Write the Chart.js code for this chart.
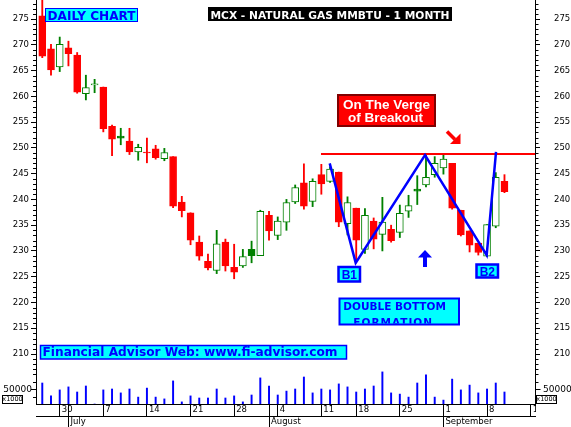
<!DOCTYPE html>
<html>
<head>
<meta charset="utf-8">
<title>MCX - Natural Gas</title>
<script src="https://cdn.jsdelivr.net/npm/chart.js"></script>
<style>
    body { margin: 0; background: #fff; }
    canvas { display: block; }
</style>
</head>
<body>
<canvas id="grafico" width="571" height="427"></canvas>
<script>
// dias de pregão (15/08 sem pregão)
const datas = [
    '26/06', '27/06',
    '30/06', '01/07', '02/07', '03/07', '04/07',
    '07/07', '08/07', '09/07', '10/07', '11/07',
    '14/07', '15/07', '16/07', '17/07', '18/07',
    '21/07', '22/07', '23/07', '24/07', '25/07',
    '28/07', '29/07', '30/07', '31/07', '01/08',
    '04/08', '05/08', '06/08', '07/08', '08/08',
    '11/08', '12/08', '13/08', '14/08',
    '18/08', '19/08', '20/08', '21/08', '22/08',
    '25/08', '26/08', '27/08', '28/08', '29/08',
    '01/09', '02/09', '03/09', '04/09', '05/09',
    '08/09', '09/09', '10/09'
];

const abertura = [
    275.6, 269.2,
    265.7, 269.4, 268.0, 260.5, 262.2,
    261.8, 254.2, 252.3, 251.3, 249.2,
    249.2, 249.8, 247.9, 248.3, 239.5,
    237.4, 231.7, 228.0, 226.2, 231.7,
    226.8, 227.1, 230.3, 229.1, 236.9,
    233.0, 235.6, 239.5, 243.2, 239.6,
    244.8, 243.5, 245.3, 235.3,
    238.3, 230.3, 235.8, 233.2, 234.2,
    233.6, 237.7, 242.0, 242.8, 244.8,
    246.1, 247.0, 237.9, 233.9, 231.5,
    229.0, 234.8, 243.5
];
const maxima = [
    279.5, 270.1,
    271.5, 270.7, 268.5, 264.1, 263.3,
    261.8, 254.4, 253.8, 253.8, 250.7,
    251.9, 250.5, 249.9, 248.3, 240.6,
    237.4, 232.9, 229.4, 234.0, 232.3,
    231.3, 230.3, 231.9, 237.9, 237.7,
    236.6, 240.0, 242.8, 246.9, 244.0,
    246.8, 246.3, 245.3, 240.5,
    238.3, 238.2, 236.4, 240.4, 235.0,
    238.9, 240.8, 244.6, 248.6, 248.3,
    248.6, 247.0, 237.9, 233.9, 231.5,
    235.1, 245.2, 244.8
];
const minima = [
    267.5, 264.1,
    264.8, 265.9, 260.6, 259.3, 260.7,
    253.1, 248.5, 250.6, 248.7, 247.6,
    247.1, 247.8, 247.5, 238.4, 236.6,
    231.2, 228.2, 226.3, 225.6, 226.1,
    224.6, 226.8, 227.7, 229.1, 232.1,
    232.2, 234.0, 239.2, 238.1, 238.6,
    241.0, 243.3, 234.7, 233.1,
    228.2, 229.5, 230.4, 230.0, 231.7,
    232.6, 236.5, 239.0, 242.4, 244.3,
    244.9, 238.1, 232.9, 229.8, 229.2,
    228.9, 234.5, 241.3
];
const fechamento = [
    267.8, 265.1,
    270.1, 268.3, 260.8, 261.7, 262.4,
    253.7, 251.7, 251.9, 249.2, 250.1,
    249.0, 248.1, 249.1, 238.7, 237.8,
    232.1, 229.0, 226.7, 231.4, 227.1,
    225.9, 228.9, 229.1, 237.7, 233.9,
    235.8, 239.4, 242.3, 238.7, 243.5,
    243.0, 245.9, 235.6, 239.4,
    232.1, 236.9, 232.3, 235.6, 232.0,
    237.3, 238.8, 241.6, 244.3, 247.0,
    247.8, 238.3, 233.1, 231.1, 229.7,
    235.1, 244.3, 241.5
];
// volume (x1000)
const volume = [
    70000, 27000,
    47000, 57000, 40000, 60000, 0,
    47000, 50000, 37000, 50000, 23000,
    53000, 23000, 17000, 77000, 7000,
    27000, 20000, 20000, 50000, 20000,
    27000, 7000, 30000, 87000, 60000,
    30000, 43000, 50000, 90000, 37000,
    50000, 47000, 67000, 57000,
    40000, 50000, 60000, 107000, 37000,
    33000, 23000, 70000, 97000, 23000,
    13000, 83000, 47000, 63000, 37000,
    50000, 70000, 40000
];

// eixo de datas: segundas-feiras e começo de cada mês (posição = índice do pregão)
const segundas = [2, 7, 12, 17, 22, 27, 32, 36, 41, 46, 51, 56];
const rotulosSegunda = ['30', '7', '14', '21', '28', '4', '11', '18', '25', '1', '8', '15'];
const inicioMes = [3, 26, 46];
const rotulosMes = ['July', 'August', 'September'];
const ticksPreco = [210, 215, 220, 225, 230, 235, 240, 245, 250, 255, 260, 265, 270, 275];
const tickVolume = 50000;

// linhas desenhadas por cima (índice do pregão, preço)
const padraoX = [32.96, 35.94, 43.89, 50.96, 52.03];
const padraoY = [246.98, 227.68, 248.6, 229.17, 249.23];
const resistenciaX = [31.96, 56.5];
const resistencia = 248.8;

const X_MIN = -0.72, X_MAX = 56.5;
const Y_MIN = 200.3, Y_MAX = 278.69;
const VOL_MAX = 1346667;

const AZUL = '#0000ff', CIANO = '#00ffff', VERDE = '#008000', VERMELHO = '#ff0000';

const idx = datas.map((d, i) => i);
const corCandle = idx.map(i => {
    const sobe = i === 0 ? fechamento[i] >= abertura[i] : fechamento[i] >= fechamento[i - 1];
    return sobe ? VERDE : VERMELHO;
});
const fundoCandle = idx.map(i => fechamento[i] < abertura[i] ? corCandle[i] : '#ffffff');

function caixa(c, x, y, w, h, fundo, borda, lw) {
    c.fillStyle = fundo;
    c.fillRect(x, y, w, h);
    if (borda) {
        c.strokeStyle = borda;
        c.lineWidth = lw;
        c.strokeRect(x, y, w, h);
    }
}

function texto(c, t, x, y, fonte, cor, alinhamento, maxW) {
    c.font = fonte;
    c.fillStyle = cor;
    c.textAlign = alinhamento;
    c.textBaseline = 'alphabetic';
    if (maxW) c.fillText(t, x, y, maxW);
    else c.fillText(t, x, y);
}

const extras = {
    id: 'extras',
    afterDraw(chart) {
        const c = chart.ctx;
        const a = chart.chartArea;
        const y = chart.scales.y;
        const yv = chart.scales.yv;
        c.save();

        // rótulo "15" cortado na borda
        c.fillStyle = '#fff';
        c.fillRect(a.right + 1, a.bottom + 1, chart.width - a.right, 11);

        // ticks menores do preço
        c.strokeStyle = '#000';
        c.lineWidth = 1;
        c.beginPath();
        for (let v = 207; v <= 278; v++) {
            if (v % 5 === 0 && v >= 210) continue;
            const py = Math.round(y.getPixelForValue(v)) + 0.5;
            c.moveTo(a.left - 3, py); c.lineTo(a.left + 0.5, py);
            c.moveTo(a.right, py); c.lineTo(a.right + 3.5, py);
        }
        // volume
        [25000, 75000, 100000].forEach(v => {
            const py = Math.round(yv.getPixelForValue(v)) + 0.5;
            c.moveTo(a.left - 3, py); c.lineTo(a.left + 0.5, py);
            c.moveTo(a.right, py); c.lineTo(a.right + 3.5, py);
        });
        const pv = Math.round(yv.getPixelForValue(tickVolume)) + 0.5;
        c.moveTo(a.left - 5, pv); c.lineTo(a.left + 0.5, pv);
        c.moveTo(a.right, pv); c.lineTo(a.right + 5.5, pv);
        c.stroke();

        c.textBaseline = 'middle';
        c.font = '9px "DejaVu Sans"';
        c.fillStyle = '#000';
        c.textAlign = 'right';
        c.fillText(String(tickVolume), 32, pv);
        c.textAlign = 'left';
        c.fillText(String(tickVolume), 543, pv);

        [[2.5, 395.5], [536.5, 395.5]].forEach(([bx, by]) => {
            caixa(c, bx, by, 20, 8, '#fff', '#000', 1);
            c.font = '6.5px "DejaVu Sans"';
            c.fillStyle = '#000';
            c.textAlign = 'center';
            c.textBaseline = 'middle';
            c.fillText('x1000', bx + 10, by + 4.3);
        });

        // caixas de texto
        caixa(c, 45.5, 8.5, 92, 13, CIANO, AZUL, 1);
        texto(c, 'DAILY CHART', 91.5, 19.5, 'bold 12.5px "DejaVu Sans"', AZUL, 'center', 88);

        caixa(c, 208, 7, 244, 14, '#000');
        texto(c, 'MCX - NATURAL GAS MMBTU - 1 MONTH', 330, 18.5, 'bold 11px "DejaVu Sans"', '#fff', 'center', 239);

        caixa(c, 338, 95, 97, 31, VERMELHO, '#800000', 2);
        texto(c, 'On The Verge', 386.5, 108.5, 'bold 13.5px "Liberation Sans"', '#fff', 'center', 91);
        texto(c, 'of Breakout', 385.5, 122, 'bold 13.5px "Liberation Sans"', '#fff', 'center', 80);

        // seta vermelha
        c.strokeStyle = VERMELHO;
        c.lineWidth = 3.5;
        c.beginPath();
        c.moveTo(447, 131.5); c.lineTo(455, 139.5);
        c.stroke();
        c.fillStyle = VERMELHO;
        c.beginPath();
        c.moveTo(460.5, 144); c.lineTo(450, 144); c.lineTo(460.5, 133.5);
        c.closePath(); c.fill();

        caixa(c, 338.5, 267, 21.5, 14.5, CIANO, AZUL, 2.5);
        texto(c, 'B1', 349.3, 279.3, 'bold 12px "Liberation Sans"', AZUL, 'center');
        caixa(c, 476.5, 264.5, 21.5, 13, CIANO, AZUL, 2.5);
        texto(c, 'B2', 487.3, 276.3, 'bold 12px "Liberation Sans"', AZUL, 'center');

        // seta azul
        c.fillStyle = AZUL;
        c.beginPath();
        c.moveTo(425, 250); c.lineTo(432, 257.5); c.lineTo(418, 257.5);
        c.closePath(); c.fill();
        c.fillRect(423, 257, 4, 10);

        caixa(c, 339.5, 298.5, 119.5, 26, CIANO);
        c.save();
        c.beginPath();
        c.rect(340.5, 299.5, 117.5, 24);
        c.clip();
        texto(c, 'DOUBLE BOTTOM', 343.3, 309.5, 'bold 10.5px "DejaVu Sans"', AZUL, 'left');
        c.letterSpacing = '1px';
        texto(c, 'FORMATION', 353.3, 325.5, 'bold 10.5px "DejaVu Sans"', AZUL, 'left');
        c.letterSpacing = '0px';
        c.restore();
        c.strokeStyle = AZUL;
        c.lineWidth = 2;
        c.strokeRect(339.5, 298.5, 119.5, 26);

        caixa(c, 40.5, 345.5, 306, 13.5, CIANO, AZUL, 1.5);
        texto(c, 'Financial Advisor Web: www.fi-advisor.com', 42.5, 355.8, 'bold 12.2px "DejaVu Sans"', AZUL, 'left', 301);

        c.restore();
    }
};

const fonteEixo = { family: 'DejaVu Sans', size: 8.5 };

const grafico = new Chart(document.getElementById('grafico').getContext('2d'), {
    type: 'bar',
    data: {
        datasets: [
            {
                type: 'line',
                data: padraoX.map((x, k) => ({ x, y: padraoY[k] })),
                borderColor: AZUL,
                borderWidth: 2.5,
                pointRadius: 0,
                xAxisID: 'x', yAxisID: 'y',
                order: 0
            },
            {
                type: 'line',
                data: resistenciaX.map(x => ({ x, y: resistencia })),
                borderColor: VERMELHO,
                borderWidth: 2,
                pointRadius: 0,
                xAxisID: 'x', yAxisID: 'y',
                order: 1
            },
            {
                label: 'corpo',
                data: idx.map(i => ({ x: i, y: [abertura[i], fechamento[i]] })),
                backgroundColor: fundoCandle,
                borderColor: corCandle,
                borderWidth: 1,
                borderSkipped: false,
                barThickness: 7,
                grouped: false,
                xAxisID: 'x', yAxisID: 'y',
                order: 2
            },
            {
                label: 'pavio',
                data: idx.map(i => ({ x: i, y: [minima[i], maxima[i]] })),
                backgroundColor: corCandle,
                barThickness: 1.2,
                grouped: false,
                xAxisID: 'x', yAxisID: 'y',
                order: 3
            },
            {
                label: 'volume',
                data: idx.map(i => ({ x: i, y: volume[i] })),
                backgroundColor: AZUL,
                barThickness: 1.3,
                grouped: false,
                xAxisID: 'x', yAxisID: 'yv',
                order: 4
            }
        ]
    },
    options: {
        responsive: false,
        animation: false,
        events: [],
        devicePixelRatio: 1,
        layout: { padding: 0 },
        plugins: { legend: { display: false }, tooltip: { enabled: false } },
        scales: {
            x: {
                type: 'linear', position: 'bottom', weight: 0,
                min: X_MIN, max: X_MAX, offset: false,
                afterBuildTicks: s => { s.ticks = [...new Set([...segundas, ...inicioMes])].map(v => ({ value: v })); },
                afterFit: s => { s.height = 12; s.paddingLeft = 0; s.paddingRight = 0; },
                grid: { drawOnChartArea: false, offset: false, color: '#000', tickLength: 12 },
                border: { color: '#000' },
                ticks: {
                    align: 'start', labelOffset: 2, padding: -11, autoSkip: false, maxRotation: 0,
                    color: '#000', font: fonteEixo,
                    callback: v => { const k = segundas.indexOf(v); return k < 0 ? '' : rotulosSegunda[k]; }
                }
            },
            xm: {
                type: 'linear', position: 'bottom', weight: 1,
                min: X_MIN, max: X_MAX, offset: false,
                afterBuildTicks: s => { s.ticks = inicioMes.map(v => ({ value: v })); },
                afterFit: s => { s.height = 11; s.paddingLeft = 0; s.paddingRight = 0; },
                grid: { drawOnChartArea: false, offset: false, color: '#000', tickLength: 11 },
                border: { color: '#000' },
                ticks: {
                    align: 'start', labelOffset: 2, padding: -10, autoSkip: false, maxRotation: 0,
                    color: '#000', font: fonteEixo,
                    callback: v => rotulosMes[inicioMes.indexOf(v)]
                }
            },
            y: {
                type: 'linear', position: 'left',
                min: Y_MIN, max: Y_MAX,
                afterBuildTicks: s => { s.ticks = ticksPreco.map(v => ({ value: v })); },
                afterFit: s => { s.width = 36; s.paddingTop = 0; s.paddingBottom = 0; },
                grid: { drawOnChartArea: false, color: '#000', tickLength: 5 },
                border: { color: '#000' },
                ticks: { padding: 2, color: '#000', font: fonteEixo, callback: v => String(v) }
            },
            y2: {
                type: 'linear', position: 'right',
                min: Y_MIN, max: Y_MAX,
                afterBuildTicks: s => { s.ticks = ticksPreco.map(v => ({ value: v })); },
                afterFit: s => { s.width = 36; s.paddingTop = 0; s.paddingBottom = 0; },
                grid: { drawOnChartArea: false, color: '#000', tickLength: 5 },
                border: { color: '#000' },
                ticks: { padding: 14, color: '#000', font: fonteEixo, callback: v => String(v) }
            },
            yv: {
                type: 'linear', display: false,
                min: 0, max: VOL_MAX
            }
        }
    },
    plugins: [extras]
});
</script>
</body>
</html>
